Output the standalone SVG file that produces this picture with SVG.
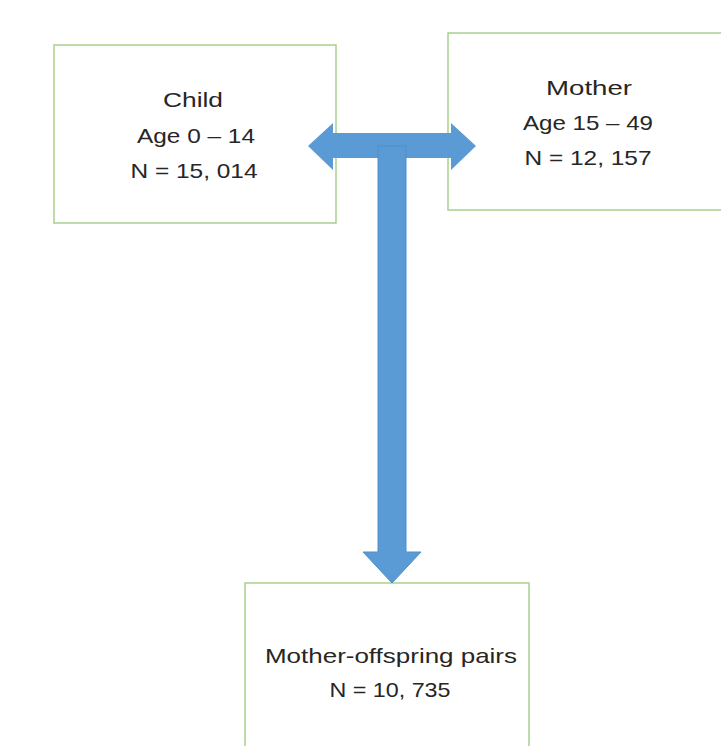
<svg xmlns="http://www.w3.org/2000/svg" width="721" height="746" viewBox="0 0 721 746">
<style>
.box{fill:#ffffff;stroke:#a9d18e;stroke-width:1.5}
.t{font-family:"Liberation Sans",Arial,sans-serif;font-size:21px;fill:#262626;text-anchor:middle}
.arrow{fill:#5b9bd5}
</style>
<rect width="721" height="746" fill="#ffffff"/>
<g id="child">
<rect class="box" x="54" y="45" width="282" height="178"/>
<text class="t" x="193" y="107" textLength="60" lengthAdjust="spacingAndGlyphs">Child</text>
<text class="t" x="196" y="143" textLength="118" lengthAdjust="spacingAndGlyphs">Age 0 – 14</text>
<text class="t" x="194" y="178" textLength="127" lengthAdjust="spacingAndGlyphs">N = 15, 014</text>
</g>
<g id="mother">
<rect class="box" x="448" y="33" width="290" height="177"/>
<text class="t" x="589" y="95" textLength="86" lengthAdjust="spacingAndGlyphs">Mother</text>
<text class="t" x="588" y="130" textLength="130" lengthAdjust="spacingAndGlyphs">Age 15 – 49</text>
<text class="t" x="588" y="165" textLength="127" lengthAdjust="spacingAndGlyphs">N = 12, 157</text>
</g>
<g id="pairs">
<rect class="box" x="245" y="583" width="284" height="180"/>
<text class="t" x="391" y="663" textLength="252" lengthAdjust="spacingAndGlyphs">Mother-offspring pairs</text>
<text class="t" x="390" y="697" textLength="121" lengthAdjust="spacingAndGlyphs">N = 10, 735</text>
</g>
<g id="connectors">
<polygon class="arrow" points="308,146 333,123 333,133 451,133 451,123 476,146 451,170 451,158 333,158 333,170"/>
<polygon class="arrow" stroke="#4f8fc9" stroke-width="1" points="378,146 406,146 406,552 421,552 392,583 363,552 378,552"/>
</g>
</svg>
